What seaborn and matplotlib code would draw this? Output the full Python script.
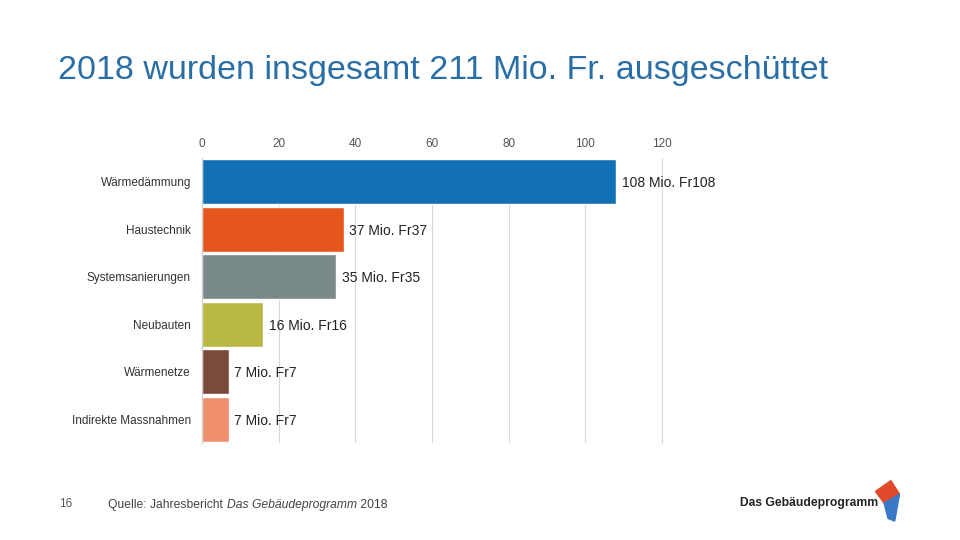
import matplotlib.pyplot as plt
import numpy as np
import pandas as pd
import seaborn as sns
from matplotlib.patches import Polygon

categories = ['Wärmedämmung', 'Haustechnik', 'Systemsanierungen', 'Neubauten',
              'Wärmenetze', 'Indirekte Massnahmen']
values = [108, 37, 35, 16, 7, 7]
colors = ['#1470b4', '#e5561f', '#7a8a8a', '#b9b842', '#7a4a3a', '#f0906f']
xticks = [0, 20, 40, 60, 80, 100, 120]

sns.set_style('white')
plt.rcParams['font.family'] = ['Liberation Sans', 'DejaVu Sans']

df = pd.DataFrame({'Kategorie': categories, 'Wert': values})

fig = plt.figure(figsize=(9.6, 5.4), dpi=100)
ax = fig.add_axes([0.2104, 0.1796, 0.4792, 0.5278])

sns.barplot(data=df, x='Wert', y='Kategorie', hue='Kategorie', palette=colors,
            saturation=1, width=0.94, legend=False, ax=ax)

ax.set_xlim(0, 120)
ax.set_ylim(len(categories) - 0.5, -0.5)
ax.set_xticks(xticks)
ax.set_xticklabels([str(t) for t in xticks], fontsize=8.5, color='#555555')
ax.xaxis.tick_top()
ax.tick_params(axis='x', length=0, pad=6)
ax.tick_params(axis='y', length=0, pad=8, labelsize=8.5, labelcolor='#333333')
ax.set_xlabel('')
ax.set_ylabel('')
ax.grid(axis='x', color='#d9d9d9', linewidth=0.8)
ax.set_axisbelow(True)
for s in ['top', 'bottom']:
    ax.spines[s].set_visible(False)
ax.spines['right'].set_color('#d9d9d9')
ax.spines['right'].set_linewidth(0.8)
ax.spines['left'].set_color('#cccccc')
ax.spines['left'].set_linewidth(0.8)

for p, v in zip(ax.patches, values):
    ax.annotate(f'{v} Mio. Fr{v}', (p.get_width(), p.get_y() + p.get_height() / 2),
                xytext=(4, -1), textcoords='offset points', ha='left', va='center',
                fontsize=10, color='#222222')

fig.text(0.060, 0.870, '2018 wurden insgesamt 211 Mio. Fr. ausgeschüttet',
         fontsize=24.5, color='#2a6ea6', ha='left', va='center')

fig.text(0.062, 0.066, '16', fontsize=8.5, color='#555555', ha='left', va='center')
t1 = fig.text(0.113, 0.064, 'Quelle: Jahresbericht ', fontsize=8.7, color='#444444',
              ha='left', va='center')
fig.canvas.draw()
bb = t1.get_window_extent()
x2 = bb.x1 / fig.bbox.width
t2 = fig.text(x2, 0.064, 'Das Gebäudeprogramm', fontsize=8.7, color='#444444',
              style='italic', ha='left', va='center')
fig.canvas.draw()
bb2 = t2.get_window_extent()
fig.text(bb2.x1 / fig.bbox.width, 0.064, ' 2018', fontsize=8.7, color='#444444',
         ha='left', va='center')

# logo
fig.text(0.915, 0.068, 'Das Gebäudeprogramm', fontsize=8.7, fontweight='bold',
         color='#222222', ha='right', va='center')
fig.patches.append(Polygon([(0.912, 0.090), (0.928, 0.110), (0.937, 0.085), (0.921, 0.068)],
                           closed=True, transform=fig.transFigure, color='#e04a2a'))
fig.patches.append(Polygon([(0.921, 0.068), (0.937, 0.085), (0.932, 0.035), (0.925, 0.040)],
                           closed=True, transform=fig.transFigure, color='#3a78c8'))

plt.savefig('out.png', dpi=100)
